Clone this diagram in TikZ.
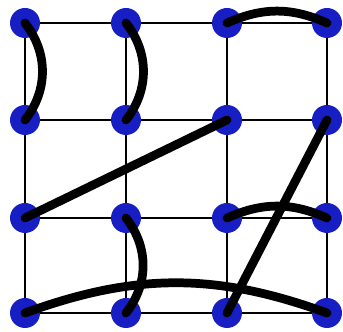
\documentclass[tikz,border=0pt]{standalone}
\usetikzlibrary{calc}
\definecolor{vtxBlue}{RGB}{22,30,196}
\definecolor{ink}{RGB}{0,0,0}

\begin{document}
\begin{tikzpicture}[
  vtx/.style={circle, fill=vtxBlue, draw=none, minimum size=0.6cm, inner sep=0pt},
  grid/.style={draw=ink, line width=0.045cm},
  link/.style={draw=ink, line width=0.175cm, line cap=round}
]
\useasboundingbox (0,0) rectangle (6.86,6.64);
% vertices, column \c and row \r
\foreach \c/\x in {1/0.5, 2/2.52, 3/4.54, 4/6.54}
  \foreach \r/\y in {1/6.18, 2/4.24, 3/2.28, 4/0.38}
    \node[vtx] (v\c\r) at (\x,\y) {};
% lattice
\foreach \c in {1,...,4}
  \draw[grid] (v\c1) -- (v\c2) -- (v\c3) -- (v\c4);
\foreach \r in {1,...,4}
  \draw[grid] (v1\r) -- (v2\r) -- (v3\r) -- (v4\r);
% matching
\draw[link] (v11.center) to[bend left=38] (v12.center);
\draw[link] (v21.center) to[bend left=38] (v22.center);
\draw[link] (v31.center) to[bend left=24] (v41.center);
\draw[link] (v32.center) -- (v13.center);
\draw[link] (v42.center) -- (v34.center);
\draw[link] (v33.center) to[bend left=24] (v43.center);
\draw[link] (v23.center) to[bend left=38] (v24.center);
\draw[link] (v14.center) to[bend left=20] (v44.center);
\end{tikzpicture}
\end{document}
